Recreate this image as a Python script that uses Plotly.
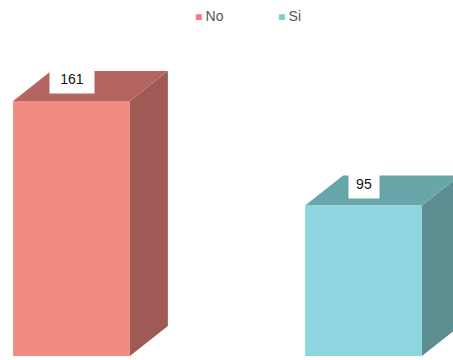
import plotly.graph_objects as go

# Survey answers and counts
categories = ["No", "Si"]
values = [161, 95]
front_colors = ["#F28B82", "#8DD6DF"]
top_colors = ["#B5655F", "#67A7AA"]
side_colors = ["#9F5A55", "#5C8D90"]
legend_colors = ["#EE7A88", "#7CCFC8"]

# Box geometry in data units
bar_width = 0.40
depth_x = 0.13
depth_y = 18.9

fig = go.Figure()


def poly(xs, ys, color):
    fig.add_trace(go.Scatter(
        x=xs + [xs[0]], y=ys + [ys[0]], mode="lines", fill="toself",
        fillcolor=color, line=dict(width=0, color=color),
        hoverinfo="skip", showlegend=False,
    ))


for i, (cat, v) in enumerate(zip(categories, values)):
    l, r = i - bar_width / 2, i + bar_width / 2
    # side face
    poly([r, r + depth_x, r + depth_x, r], [0, depth_y, v + depth_y, v], side_colors[i])
    # top face
    poly([l, r, r + depth_x, l + depth_x], [v, v, v + depth_y, v + depth_y], top_colors[i])
    # front face
    poly([l, r, r, l], [0, 0, v, v], front_colors[i])
    fig.add_annotation(
        x=i, y=v, yanchor="bottom", yshift=7, text=str(v), showarrow=False,
        bgcolor="white", width=14 * len(str(v)), height=26,
        font=dict(family="Liberation Sans, Arial", size=14, color="#111111"),
    )

# legend row: coloured square followed by the category name
legend_x = [0.4614, 0.6391]
for cat, c, lx in zip(categories, legend_colors, legend_x):
    fig.add_annotation(
        xref="paper", yref="paper", x=lx, y=0.9556, xanchor="center", yanchor="middle",
        showarrow=False,
        text=f"<span style='color:{c};font-size:12px'>■&#160;</span>{cat}",
        font=dict(family="Liberation Sans, Arial", size=14, color="#555555"),
    )

fig.update_layout(
    width=453, height=360, margin=dict(l=0, r=0, t=0, b=0),
    paper_bgcolor="white", plot_bgcolor="white",
    xaxis=dict(range=[-0.2449, 1.3065], visible=False),
    yaxis=dict(range=[-2.53, 224.8], visible=False),
    showlegend=False,
    font=dict(family="Liberation Sans, Arial"),
)

fig.write_html("out.html")
